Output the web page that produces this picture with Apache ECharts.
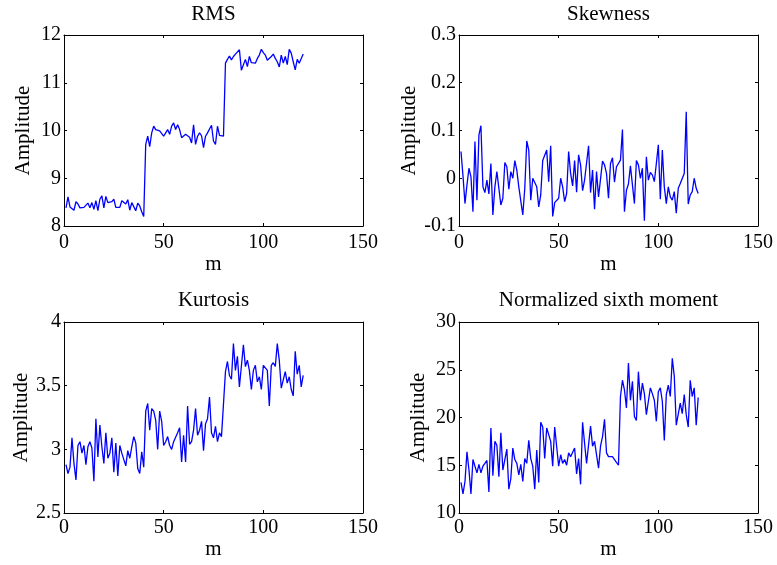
<!DOCTYPE html>
<html><head><meta charset="utf-8">
<script src="https://cdn.jsdelivr.net/npm/echarts@6/dist/echarts.min.js"></script>
<style>html,body{margin:0;padding:0;background:#fff}#c{width:777px;height:565px}</style>
</head><body><div id="c"></div>
<script>
// ---- data ----
const titles = ['RMS', 'Skewness', 'Kurtosis', 'Normalized sixth moment'];
const xLabel = 'm';
const yLabel = 'Amplitude';
const xTicks = [0, 50, 100, 150];
const rmsTicks = [8, 9, 10, 11, 12];
const skewTicks = [-0.1, 0, 0.1, 0.2, 0.3];
const kurtTicks = [2.5, 3, 3.5, 4];
const sixthTicks = [10, 15, 20, 25, 30];
const mValues = Array.from({length: 120}, (_, i) => i + 1);

const rms = [8.38,8.61,8.40,8.42,8.33,8.51,8.46,8.38,8.38,8.39,8.40,8.48,8.38,8.49,8.35,8.53,8.32,8.56,8.63,8.38,
8.62,8.49,8.48,8.51,8.56,8.39,8.40,8.39,8.53,8.49,8.46,8.55,8.33,8.49,8.46,8.32,8.48,8.42,8.30,8.20,
9.71,9.88,9.66,9.95,10.09,10.02,10.00,9.99,9.99,9.88,9.95,10.02,9.92,10.09,10.16,10.02,10.12,10.02,9.85,9.83,
9.92,9.95,9.86,9.74,10.12,9.71,9.88,9.95,9.89,9.64,9.88,9.95,9.95,10.11,9.78,9.71,10.09,9.90,9.86,9.88,
11.41,11.49,11.56,11.48,11.55,11.60,11.63,11.69,11.26,11.28,11.49,11.34,11.55,11.42,11.44,11.41,11.51,11.58,11.70,11.63,
11.58,11.47,11.43,11.55,11.60,11.51,11.44,11.33,11.58,11.41,11.55,11.38,11.70,11.62,11.44,11.27,11.49,11.41,11.40,11.60];

const skewness = [0.056,0.005,-0.053,-0.014,0.021,0.003,-0.070,0.077,-0.046,0.091,
0.110,-0.018,-0.030,-0.004,-0.033,0.031,-0.077,-0.018,0.014,0.014,
-0.056,-0.042,0.033,0.024,-0.023,0.014,0.000,0.037,0.017,-0.018,
-0.014,-0.077,-0.021,0.078,0.059,-0.046,0.000,-0.002,-0.018,-0.060,
-0.035,0.037,0.038,0.059,-0.007,0.068,-0.080,-0.051,-0.053,-0.042,
0.000,-0.018,-0.049,-0.032,0.056,0.010,-0.016,0.037,-0.029,0.049,
0.028,-0.026,-0.004,-0.004,0.068,-0.030,0.017,-0.065,0.014,-0.039,
-0.042,0.036,0.028,0.010,-0.042,0.031,0.043,-0.008,0.024,0.028,
0.038,0.102,-0.070,-0.025,-0.012,0.026,0.028,-0.053,0.037,0.028,
0.000,0.021,-0.089,0.045,-0.004,0.012,0.007,-0.007,0.031,0.070,
-0.044,0.059,-0.018,-0.053,-0.018,-0.039,-0.046,-0.028,-0.073,-0.021,
-0.011,-0.014,0.010,0.139,-0.054,-0.035,-0.028,0.000,-0.021,-0.032];

const kurtosis = [2.88,2.81,2.86,3.09,2.89,2.76,3.03,3.06,2.97,3.03,
2.88,3.02,3.06,3.01,2.75,3.24,2.94,3.19,3.02,2.89,
3.13,2.93,2.97,3.09,2.82,3.05,2.79,3.03,2.97,2.97,
2.87,2.99,2.93,3.02,3.10,3.05,2.85,2.81,2.98,2.86,
3.30,3.36,3.15,3.32,3.30,3.23,3.00,3.30,3.22,3.03,
3.06,3.10,3.03,3.00,3.06,3.06,3.13,3.17,2.90,3.11,
2.90,3.34,3.04,3.06,3.15,3.32,3.11,3.15,3.22,2.99,
3.20,3.24,3.41,3.13,3.09,3.18,3.06,3.13,3.10,3.11,
3.61,3.69,3.58,3.55,3.83,3.62,3.73,3.49,3.48,3.82,
3.65,3.70,3.62,3.47,3.62,3.66,3.53,3.57,3.47,3.66,
3.65,3.62,3.34,3.66,3.68,3.65,3.83,3.70,3.48,3.47,
3.61,3.52,3.57,3.47,3.42,3.77,3.59,3.66,3.49,3.58];

const sixthMoment = [13.2,12.0,13.3,16.4,14.5,12.0,15.6,15.7,14.2,15.1,
14.2,14.9,15.2,15.5,12.2,18.9,13.9,17.5,17.1,13.8,
18.4,14.5,14.7,16.7,12.5,13.6,16.8,15.6,15.2,14.0,
15.1,13.3,15.7,15.2,17.6,15.7,14.9,12.5,16.6,13.2,
19.5,19.0,15.7,18.9,18.7,17.5,14.9,19.0,19.0,14.9,
16.1,15.2,15.6,15.0,16.3,15.9,15.7,16.8,14.1,15.7,
13.0,19.5,17.3,15.2,15.0,19.1,17.0,17.5,17.5,14.7,
17.0,18.0,19.8,16.3,15.9,15.7,15.9,15.6,15.7,15.0,
22.2,23.9,22.9,21.0,25.7,21.8,23.8,20.1,19.7,24.8,
21.8,23.6,22.5,20.3,21.7,23.1,22.5,21.8,19.6,22.7,
23.1,21.7,17.6,22.4,23.4,22.2,26.2,24.3,19.2,19.0,
21.5,20.4,22.4,20.3,19.0,23.9,22.2,23.1,19.2,22.1];

const seriesValues = [rms, skewness, kurtosis, sixthMoment];
const yTickSets = [rmsTicks, skewTicks, kurtTicks, sixthTicks];

// ---- layout / style ----
const FONT = '"Liberation Serif","Times New Roman",Times,serif';
const W = 299, H = 191;
const gridPos = [{left: 64, top: 35}, {left: 459, top: 35}, {left: 64, top: 322}, {left: 459, top: 322}];
const black = '#000';

const grid = [], xAxis = [], yAxis = [], series = [], graphic = [];
gridPos.forEach((g, i) => {
  const top = i < 2;
  const ticks = yTickSets[i];
  const yMin = ticks[0], yMax = ticks[ticks.length - 1];
  const yInt = +(ticks[1] - ticks[0]).toFixed(6);
  grid.push({left: g.left, top: g.top, width: W, height: H, show: false, containLabel: false});
  const lineCommon = {show: true, onZero: false, lineStyle: {color: black, width: 1}};
  const tickCommon = {show: true, inside: true, length: 3, lineStyle: {color: black, width: 1}};
  xAxis.push({
    gridIndex: i, type: 'value', position: 'bottom',
    min: xTicks[0], max: xTicks[xTicks.length - 1], interval: xTicks[1] - xTicks[0],
    axisLine: lineCommon, axisTick: tickCommon, splitLine: {show: false},
    axisLabel: {margin: top ? 7 : 5, fontFamily: FONT, fontSize: 20, color: black},
    name: xLabel, nameLocation: 'middle', nameGap: top ? 26 : 24,
    nameTextStyle: {fontFamily: FONT, fontSize: 21, color: black}
  });
  xAxis.push({
    gridIndex: i, type: 'value', position: 'top',
    min: xTicks[0], max: xTicks[xTicks.length - 1], interval: xTicks[1] - xTicks[0],
    axisLine: lineCommon, axisTick: tickCommon, splitLine: {show: false}, axisLabel: {show: false}
  });
  yAxis.push({
    gridIndex: i, type: 'value', position: 'left',
    min: yMin, max: yMax, interval: yInt,
    axisLine: lineCommon, axisTick: tickCommon, splitLine: {show: false},
    axisLabel: {margin: 3, fontFamily: FONT, fontSize: 20, color: black},
    name: yLabel, nameLocation: 'middle', nameGap: 30, nameRotate: 90,
    nameTextStyle: {fontFamily: FONT, fontSize: 21, color: black}
  });
  yAxis.push({
    gridIndex: i, type: 'value', position: 'right',
    min: yMin, max: yMax, interval: yInt,
    axisLine: lineCommon, axisTick: tickCommon, splitLine: {show: false}, axisLabel: {show: false}
  });
  series.push({
    type: 'line', xAxisIndex: 2 * i, yAxisIndex: 2 * i,
    data: mValues.map((m, k) => [m, seriesValues[i][k]]),
    symbol: 'none', showSymbol: false,
    lineStyle: {color: '#0000ff', width: 1.3}, itemStyle: {color: '#0000ff'},
    animation: false
  });
  graphic.push({
    type: 'text', x: g.left + W / 2, y: top ? 14 : 300,
    style: {text: titles[i], font: '21px ' + FONT, fill: black, align: 'center', verticalAlign: 'middle'}
  });
});

const chart = echarts.init(document.getElementById('c'), null, {renderer: 'canvas'});
chart.setOption({
  animation: false,
  backgroundColor: '#fff',
  grid, xAxis, yAxis, series, graphic
});
</script>
</body></html>
